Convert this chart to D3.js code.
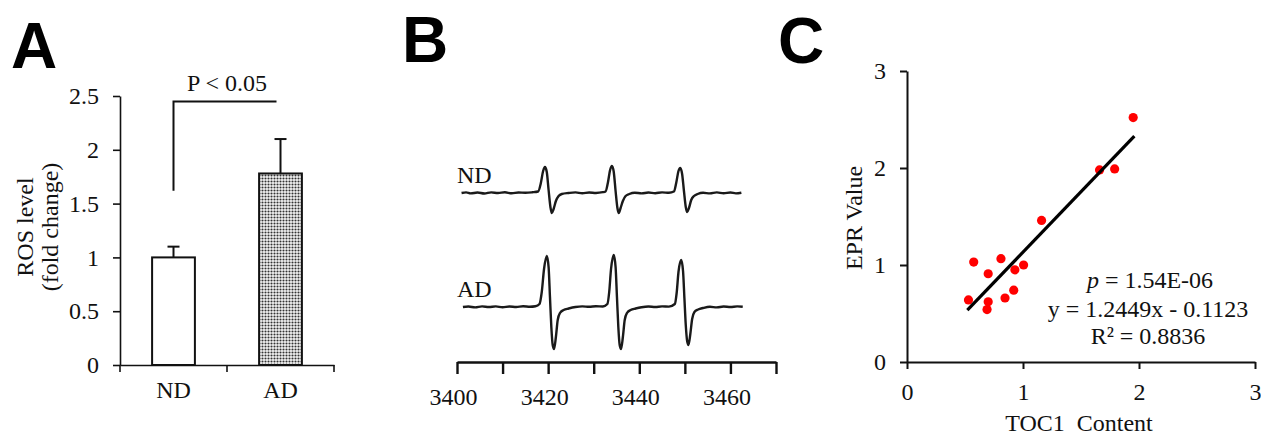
<!DOCTYPE html>
<html>
<head>
<meta charset="utf-8">
<script src="https://cdn.jsdelivr.net/npm/d3@7"></script>
<style>
  body { margin: 0; background: #fff; }
  svg { display: block; font-family: "Liberation Serif", "Times New Roman", serif; }
  .panel-letter { font-family: "Liberation Sans", Arial, sans-serif; font-weight: bold; font-size: 64px; fill: #000; }
  .label { font-size: 24px; fill: #111; }
</style>
</head>
<body>
<div id="figure"></div>
<script>
// ---------- data ----------
// panel A : ROS level
const bar_groups = ["ND", "AD"];
const bar_means = [1.0, 1.78];
const bar_errors = [0.10, 0.32];
const bar_ticks = [0, 0.5, 1, 1.5, 2, 2.5];
const bar_tick_labels = ["0", "0.5", "1", "1.5", "2", "2.5"];
const bracket_levels = [1.62, 2.45];
const significance_text = "P < 0.05";

// panel B : EPR spectra (field in G, intensity arbitrary units)
const field_ticks = [3400, 3410, 3420, 3430, 3440, 3450, 3460, 3470];
const field_labels = [3400, 3420, 3440, 3460];
const trace_names = ["ND", "AD"];
const trace_nd = [
  [3401.0, 0.0], [3402, 0.06], [3403, -0.04], [3404.5, 0.05], [3406, -0.05], [3407.5, 0.06], [3409, 0.0], [3410.5, 0.07], [3412, -0.03], [3413.5, 0.05], [3415, 0.02], [3416.5, 0.07], [3417.8, 0.15],
  [3418.4, 1.0], [3418.9, 2.2], [3419.3, 2.6], [3419.7, 2.1], [3420.1, 0.3], [3420.5, -1.4], [3420.8, -2.0], [3421.2, -1.6], [3421.7, -0.8], [3422.3, -0.3], [3423.0, -0.1],
  [3424.5, 0.0], [3426, 0.06], [3427.5, -0.03], [3429, 0.05], [3430.5, 0.0], [3432, 0.08], [3432.6, 0.15],
  [3433.1, 1.0], [3433.6, 2.3], [3434.0, 2.7], [3434.4, 2.1], [3434.8, 0.2], [3435.2, -1.5], [3435.5, -2.0], [3435.9, -1.5], [3436.4, -0.8], [3437.0, -0.3], [3437.8, -0.1],
  [3439, 0.03], [3440.5, -0.04], [3442, 0.05], [3443.5, -0.02], [3445, 0.06], [3446.5, 0.02], [3447.6, 0.15],
  [3448.1, 1.0], [3448.6, 2.2], [3449.0, 2.5], [3449.4, 1.9], [3449.8, 0.2], [3450.2, -1.4], [3450.5, -1.9], [3450.9, -1.5], [3451.4, -0.7], [3452.0, -0.3], [3452.8, -0.1],
  [3454, 0.02], [3455.5, -0.04], [3457, 0.06], [3458.5, -0.03], [3460, 0.05], [3461.2, -0.04], [3462.4, 0.03]
];
const trace_ad = [
  [3401.3, 0.0], [3402.5, 0.05], [3404, -0.04], [3405.5, 0.06], [3407, 0.0], [3408.5, 0.06], [3410, -0.03], [3411.5, 0.05], [3413, 0.0], [3414.5, 0.07], [3416, 0.03], [3417.2, 0.08], [3418.1, 0.3],
  [3418.6, 1.5], [3419.1, 3.8], [3419.7, 5.1], [3420.1, 4.0], [3420.4, 1.0], [3420.7, -2.0], [3421.0, -3.8], [3421.3, -4.2], [3421.7, -3.0], [3422.1, -1.3], [3422.6, -0.6], [3423.4, -0.3], [3424.5, -0.15],
  [3426, 0.0], [3427.5, 0.06], [3429, 0.02], [3430.5, 0.07], [3432, 0.05], [3433.0, 0.3],
  [3433.4, 1.5], [3433.8, 3.8], [3434.4, 5.2], [3434.8, 4.0], [3435.1, 1.0], [3435.4, -2.0], [3435.7, -3.8], [3436.0, -4.2], [3436.4, -3.0], [3436.8, -1.3], [3437.3, -0.6], [3438.1, -0.3], [3439.2, -0.15],
  [3440.5, -0.02], [3442, 0.05], [3443.5, 0.0], [3445, 0.06], [3446.5, 0.04], [3447.8, 0.3],
  [3448.2, 1.4], [3448.6, 3.5], [3449.2, 4.7], [3449.6, 3.6], [3449.9, 0.9], [3450.2, -1.8], [3450.5, -3.4], [3450.8, -3.8], [3451.2, -2.7], [3451.6, -1.2], [3452.1, -0.5], [3452.9, -0.25], [3454, -0.1],
  [3455.5, 0.02], [3457, -0.04], [3458.5, 0.05], [3460, 0.0], [3461.5, 0.06], [3462.7, 0.02]
];

// panel C : TOC1 vs EPR
const toc1_content = [1.95, 1.66, 1.79, 1.16, 0.575, 0.81, 0.70, 0.93, 1.005, 0.53, 0.70, 0.69, 0.845, 0.92];
const epr_value    = [2.52, 1.98, 1.99, 1.46, 1.03, 1.065, 0.91, 0.95, 1.00, 0.64, 0.62, 0.54, 0.66, 0.74];
const fit_slope = 1.2449;
const fit_intercept = -0.1123;
const fit_range = [0.52, 1.96];
const scatter_ticks = [0, 1, 2, 3];
const stat_lines = ["= 1.54E-06", "y = 1.2449x - 0.1123", "R\u00B2 = 0.8836"];

// ---------- layout ----------
const fig_width = 1261, fig_height = 435;
const ink = "#111";
const serif = '"Liberation Serif", "Times New Roman", serif';

const svg = d3.select("#figure")
  .append("svg")
    .attr("width", fig_width)
    .attr("height", fig_height);

// dotted fill for AD bar
const defs = svg.append("defs");
const dots = defs.append("pattern")
  .attr("id", "dots")
  .attr("width", 3)
  .attr("height", 3)
  .attr("patternUnits", "userSpaceOnUse");
dots.append("rect").attr("width", 3).attr("height", 3).attr("fill", "#f4f4f4");
dots.append("circle").attr("cx", 1.5).attr("cy", 1.5).attr("r", 1.05).attr("fill", "#333");

function panel_letter(txt, x, y) {
  svg.append("text")
    .attr("class", "panel-letter")
    .attr("x", x)
    .attr("y", y)
    .text(txt);
}

function style_axis(g, width) {
  g.attr("font-family", serif).attr("font-size", 24);
  g.selectAll("path, line").attr("stroke", ink).attr("stroke-width", width);
  g.selectAll("text").attr("fill", ink);
}

// ---------- panel A ----------
function draw_bars() {
  const y = d3.scaleLinear().domain([0, 2.5]).range([365, 96]);
  const x = d3.scaleBand().domain(bar_groups).range([120, 334]).paddingInner(0.6).paddingOuter(0.3);
  const g = svg.append("g");

  const y_axis = g.append("g")
    .attr("transform", "translate(120,0)")
    .call(d3.axisLeft(y).tickValues(bar_ticks).tickSize(7).tickSizeOuter(0).tickPadding(14)
      .tickFormat((d, i) => bar_tick_labels[i]));
  style_axis(y_axis, 1.6);

  const x_axis = g.append("g")
    .attr("transform", "translate(0,365)")
    .call(d3.axisBottom(x).tickSize(0).tickSizeOuter(0).tickPadding(16));
  style_axis(x_axis, 1.6);

  // tick marks between categories
  g.selectAll(".band-tick")
    .data(d3.range(bar_groups.length + 1))
    .join("line")
      .attr("class", "band-tick")
      .attr("x1", (d) => x.range()[0] + d * x.step())
      .attr("x2", (d) => x.range()[0] + d * x.step())
      .attr("y1", 365)
      .attr("y2", 372)
      .attr("stroke", ink)
      .attr("stroke-width", 1.6);

  // error bars
  g.selectAll(".err")
    .data(bar_groups)
    .join("g")
      .attr("class", "err")
      .each(function (d, i) {
        const cx = x(d) + x.bandwidth() / 2;
        const sel = d3.select(this);
        sel.append("line")
          .attr("x1", cx).attr("x2", cx)
          .attr("y1", y(bar_means[i])).attr("y2", y(bar_means[i] + bar_errors[i]))
          .attr("stroke", ink).attr("stroke-width", 2);
        sel.append("line")
          .attr("x1", cx - 6).attr("x2", cx + 6)
          .attr("y1", y(bar_means[i] + bar_errors[i])).attr("y2", y(bar_means[i] + bar_errors[i]))
          .attr("stroke", ink).attr("stroke-width", 2);
      });

  g.selectAll(".bar")
    .data(bar_groups)
    .join("rect")
      .attr("class", "bar")
      .attr("x", (d) => x(d))
      .attr("width", x.bandwidth())
      .attr("y", (d, i) => y(bar_means[i]))
      .attr("height", (d, i) => y(0) - y(bar_means[i]))
      .attr("fill", (d, i) => i == 0 ? "#fff" : "url(#dots)")
      .attr("stroke", ink)
      .attr("stroke-width", 2);

  // significance bracket
  const nd_c = x(bar_groups[0]) + x.bandwidth() / 2,
        ad_c = x(bar_groups[1]) + x.bandwidth() / 2;
  g.append("path")
    .attr("d", `M${nd_c},${y(bracket_levels[0])}V${y(bracket_levels[1])}H${ad_c - 4}`)
    .attr("fill", "none")
    .attr("stroke", ink)
    .attr("stroke-width", 2);
  g.append("text")
    .attr("class", "label")
    .attr("x", (nd_c + ad_c) / 2)
    .attr("y", y(bracket_levels[1]) - 10)
    .attr("text-anchor", "middle")
    .text(significance_text);

  g.append("text")
    .attr("class", "label")
    .attr("transform", "translate(33,227) rotate(-90)")
    .attr("text-anchor", "middle")
    .text("ROS level");
  g.append("text")
    .attr("class", "label")
    .attr("transform", "translate(58,227) rotate(-90)")
    .attr("text-anchor", "middle")
    .text("(fold change)");
}

// ---------- panel B ----------
function draw_spectra() {
  const x = d3.scaleLinear().domain([3400, 3470]).range([457, 776]);
  const baselines = { ND: 193, AD: 307 };
  const traces = { ND: trace_nd, AD: trace_ad };
  const g = svg.append("g");

  const x_axis = g.append("g")
    .attr("transform", "translate(0,362)")
    .call(d3.axisBottom(x).tickValues(field_ticks).tickSize(12).tickSizeOuter(0).tickPadding(14)
      .tickFormat((d) => field_labels.includes(d) ? d : ""));
  style_axis(x_axis, 2.4);
  x_axis.selectAll("text").attr("dx", -4);

  trace_names.forEach((name) => {
    const y = d3.scaleLinear().domain([-6, 6]).range([baselines[name] + 60, baselines[name] - 60]);
    const line = d3.line()
      .x((d) => x(d[0]))
      .y((d) => y(d[1]))
      .curve(d3.curveMonotoneX);
    g.append("path")
      .datum(traces[name])
      .attr("d", line)
      .attr("fill", "none")
      .attr("stroke", "#1a1a1a")
      .attr("stroke-width", 2.4)
      .attr("stroke-linejoin", "round");
    g.append("text")
      .attr("class", "label")
      .attr("x", 457)
      .attr("y", baselines[name] - 10)
      .text(name);
  });
}

// ---------- panel C ----------
function draw_scatter() {
  const x = d3.scaleLinear().domain([0, 3]).range([907, 1255]);
  const y = d3.scaleLinear().domain([0, 3]).range([362, 71]);
  const g = svg.append("g");

  const y_axis = g.append("g")
    .attr("transform", "translate(907,0)")
    .call(d3.axisLeft(y).tickValues(scatter_ticks).tickSize(7).tickSizeOuter(0).tickPadding(14)
      .tickFormat(d3.format("d")));
  style_axis(y_axis, 2);

  const x_axis = g.append("g")
    .attr("transform", "translate(0,362)")
    .call(d3.axisBottom(x).tickValues(scatter_ticks).tickSize(7).tickSizeOuter(0).tickPadding(14)
      .tickFormat(d3.format("d")));
  style_axis(x_axis, 2);

  g.selectAll(".pt")
    .data(toc1_content)
    .join("circle")
      .attr("class", "pt")
      .attr("cx", (d) => x(d))
      .attr("cy", (d, i) => y(epr_value[i]))
      .attr("r", 4.6)
      .attr("fill", "#f00");

  g.append("line")
    .attr("x1", x(fit_range[0]))
    .attr("y1", y(fit_slope * fit_range[0] + fit_intercept))
    .attr("x2", x(fit_range[1]))
    .attr("y2", y(fit_slope * fit_range[1] + fit_intercept))
    .attr("stroke", "#000")
    .attr("stroke-width", 3.2);

  const stat_y = [288, 317, 344];
  const p_row = g.append("text")
    .attr("class", "label")
    .attr("x", 1150)
    .attr("y", stat_y[0])
    .attr("text-anchor", "middle");
  p_row.append("tspan").attr("font-style", "italic").text("p");
  p_row.append("tspan").text(" " + stat_lines[0]);
  stat_lines.slice(1).forEach((t, i) => {
    g.append("text")
      .attr("class", "label")
      .attr("x", 1148)
      .attr("y", stat_y[i + 1])
      .attr("text-anchor", "middle")
      .text(t);
  });

  g.append("text")
    .attr("class", "label")
    .attr("transform", "translate(862,218) rotate(-90)")
    .attr("text-anchor", "middle")
    .text("EPR Value");
  g.append("text")
    .attr("class", "label")
    .attr("x", 1079)
    .attr("y", 431)
    .attr("text-anchor", "middle")
    .attr("xml:space", "preserve")
    .text("TOC1  Content");
}

panel_letter("A", 11, 68);
panel_letter("B", 402, 62);
panel_letter("C", 778, 63);
draw_bars();
draw_spectra();
draw_scatter();
</script>
</body>
</html>
